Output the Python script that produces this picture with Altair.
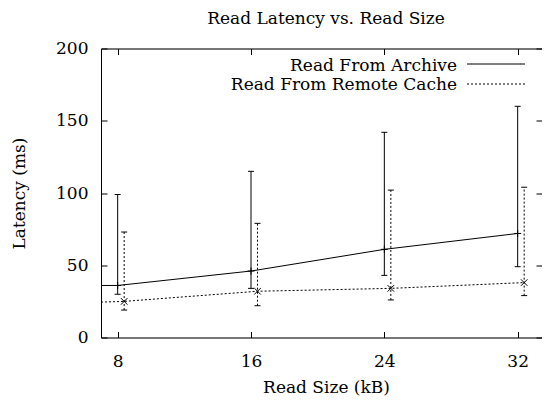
import altair as alt
import pandas as pd

# ---- data ----
sizes = [8, 16, 24, 32]
archive_mean = [36, 46, 61, 72]
archive_low = [30, 34, 43, 49]
archive_high = [99, 115, 142, 160]
remote_mean = [25, 32, 34, 38]
remote_low = [19, 22, 26, 29]
remote_high = [73, 79, 102, 104]
# the curves continue to the left frame edge (x = 7)
edge_x = 7
archive_edge = 36
remote_edge = 24.5
remote_shift = 0.39  # remote-cache points are drawn slightly right of each size

x_ticks = [8, 16, 24, 32]
y_ticks = [0, 50, 100, 150, 200]
series = ["Read From Archive", "Read From Remote Cache"]
title_text = "Read Latency vs. Read Size"
x_title = "Read Size (kB)"
y_title = "Latency (ms)"

# ---- tables ----
pts = []
for s, m, lo, hi in zip(sizes, archive_mean, archive_low, archive_high):
    pts.append(dict(series=series[0], x=s, mean=m, low=lo, high=hi))
for s, m, lo, hi in zip(sizes, remote_mean, remote_low, remote_high):
    pts.append(dict(series=series[1], x=s + remote_shift, mean=m, low=lo, high=hi))
pts = pd.DataFrame(pts)
arch_pts = pts[pts.series == series[0]]
rem_pts = pts[pts.series == series[1]]

arch_line = pd.DataFrame({"x": [edge_x] + sizes, "v": [archive_edge] + archive_mean})
rem_line = pd.DataFrame({"x": [edge_x] + [s + remote_shift for s in sizes],
                         "v": [remote_edge] + remote_mean})

W, H = 441, 289
PX_PER_UNIT = 400 / 24
FONT = "DejaVu Serif"
FS = 17

xs = alt.Scale(domain=[7, 7 + W / PX_PER_UNIT], nice=False, zero=False)
ys = alt.Scale(domain=[0, 200], nice=False, zero=False)


def tick_axis(orient, offset, values, domain=False):
    return alt.Axis(orient=orient, offset=offset, values=values, ticks=True,
                    tickSize=6, tickColor="black", tickWidth=1, labels=False,
                    domain=domain, domainColor="black", domainWidth=1,
                    grid=False, title=None)


ax_x_main = alt.Axis(orient="bottom", values=x_ticks, ticks=False, domain=True,
                     domainColor="black", domainWidth=1,
                     grid=False, labelPadding=16, labelFont=FONT, labelFontSize=FS,
                     labelColor="black", title=x_title, titleFont=FONT,
                     titleFontSize=FS, titleFontWeight="normal", titleColor="black",
                     titleX=225, titleY=54.7, titleBaseline="alphabetic",
                     titleAlign="center")
ax_y_main = alt.Axis(orient="left", values=y_ticks, ticks=False, domain=True,
                     domainColor="black", domainWidth=1,
                     grid=False, labelPadding=13, labelFont=FONT, labelFontSize=FS,
                     labelColor="black", title=y_title, titleFont=FONT,
                     titleFontSize=FS, titleFontWeight="normal", titleColor="black",
                     titleX=-77, titleY=H / 2, titleBaseline="alphabetic",
                     titleAlign="center", titleAngle=270)

PLUS = "M-1,0L1,0M0,-1L0,1"
CROSS = "M-1,-1L1,1M-1,1L1,-1"
DOT = [2, 2]

archive_line = alt.Chart(arch_line).mark_line(color="black", strokeWidth=1).encode(
    x=alt.X("x:Q", scale=xs, axis=ax_x_main),
    y=alt.Y("v:Q", scale=ys, axis=ax_y_main),
)
remote_line = alt.Chart(rem_line).mark_line(color="black", strokeWidth=1, strokeDash=DOT).encode(
    x=alt.X("x:Q", scale=xs, axis=tick_axis("top", -H, x_ticks)),
    y=alt.Y("v:Q", scale=ys, axis=tick_axis("right", -W, y_ticks)),
)
archive_rules = alt.Chart(arch_pts).mark_rule(color="black", strokeWidth=1).encode(
    x=alt.X("x:Q", scale=xs, axis=tick_axis("bottom", -H, x_ticks, domain=True)),
    y=alt.Y("low:Q", scale=ys, axis=tick_axis("left", -W, y_ticks)),
    y2="high:Q",
)


def plain_x():
    return alt.X("x:Q", scale=xs, axis=None)


remote_rules = alt.Chart(rem_pts).mark_rule(color="black", strokeWidth=1, strokeDash=DOT).encode(
    x=plain_x(), y=alt.Y("low:Q", scale=ys, axis=None), y2="high:Q")

caps = []
for dfp, dash in ((arch_pts, None), (rem_pts, DOT)):
    for fld in ("low", "high"):
        kw = dict(color="black", orient="horizontal", size=6, thickness=1, opacity=1)
        if dash:
            kw["strokeDash"] = [1, 1]
        caps.append(alt.Chart(dfp).mark_tick(**kw).encode(
            x=plain_x(), y=alt.Y(f"{fld}:Q", scale=ys, axis=None)))

arch_marks = alt.Chart(arch_pts).mark_point(shape=PLUS, size=49, filled=False,
                                            color="black", strokeWidth=1, opacity=1).encode(
    x=plain_x(), y=alt.Y("mean:Q", scale=ys, axis=None))
rem_marks = alt.Chart(rem_pts).mark_point(shape=CROSS, size=42, filled=False,
                                          color="black", strokeWidth=1, opacity=1).encode(
    x=plain_x(), y=alt.Y("mean:Q", scale=ys, axis=None))

# ---- legend (top right, text to the left of the sample line) ----
leg_df0 = pd.DataFrame({"label": [series[0]]})
leg_df1 = pd.DataFrame({"label": [series[1]]})
leg_t0 = alt.Chart(leg_df0).mark_text(font=FONT, fontSize=FS, align="right",
                                      baseline="alphabetic", color="black").encode(
    text="label:N", x=alt.value(356), y=alt.value(22))
leg_t1 = alt.Chart(leg_df1).mark_text(font=FONT, fontSize=FS, align="right",
                                      baseline="alphabetic", color="black").encode(
    text="label:N", x=alt.value(356), y=alt.value(41.5))
leg_l0 = alt.Chart(leg_df0).mark_rule(color="black", strokeWidth=1).encode(
    x=alt.value(366), x2=alt.value(424), y=alt.value(15.5))
leg_l1 = alt.Chart(leg_df1).mark_rule(color="black", strokeWidth=1, strokeDash=DOT).encode(
    x=alt.value(366), x2=alt.value(424), y=alt.value(35.5))

# ---- title, centred over the (full) frame ----
title_df = pd.DataFrame({"t": [title_text]})
title_mark = alt.Chart(title_df).mark_text(font=FONT, fontSize=FS, align="center",
                                           baseline="alphabetic", color="black").encode(
    text="t:N", x=alt.value(225), y=alt.value(-25))

chart = alt.layer(
    archive_line, remote_line, archive_rules, remote_rules, *caps,
    arch_marks, rem_marks, leg_t0, leg_t1, leg_l0, leg_l1, title_mark,
).resolve_axis(x="independent", y="independent").properties(
    width=W, height=H,
    autosize=alt.AutoSizeParams(type="none"),
    padding={"left": 93, "top": 40.5, "right": 0, "bottom": 62},
).configure_view(stroke=None).configure(background="white")

chart.save("out.html", embed_options={"renderer": "svg", "actions": False})
